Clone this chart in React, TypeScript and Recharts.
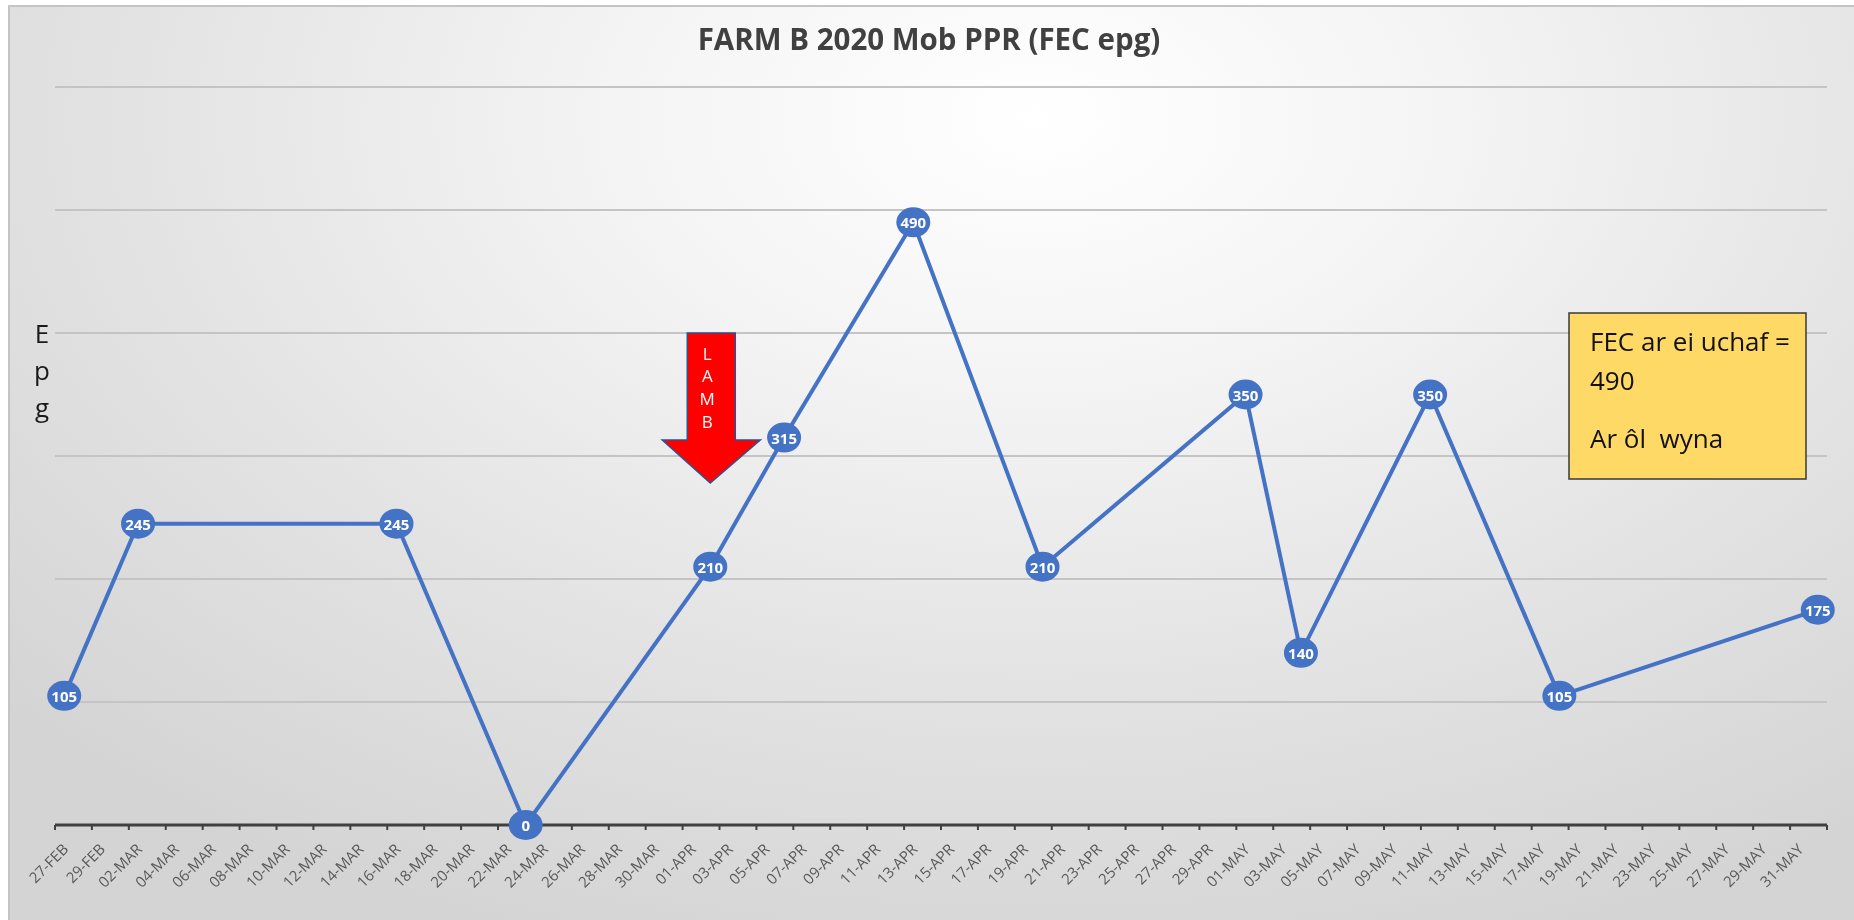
import React from 'react';
import { LineChart, Line, XAxis, YAxis, CartesianGrid, ReferenceDot } from 'recharts';

const chartTitle = 'FARM B 2020 Mob PPR (FEC epg)';
const axisStartDate = '2020-02-27';
const sampleDates = [
  '2020-02-27', '2020-03-02', '2020-03-16', '2020-03-23', '2020-04-02', '2020-04-06',
  '2020-04-13', '2020-04-20', '2020-05-01', '2020-05-04', '2020-05-11', '2020-05-18', '2020-06-01',
];
const fecValues = [105, 245, 245, 0, 210, 315, 490, 210, 350, 140, 350, 105, 175];
const tickLabels = [
  '27-FEB', '29-FEB', '02-MAR', '04-MAR', '06-MAR', '08-MAR', '10-MAR', '12-MAR', '14-MAR', '16-MAR',
  '18-MAR', '20-MAR', '22-MAR', '24-MAR', '26-MAR', '28-MAR', '30-MAR', '01-APR', '03-APR', '05-APR',
  '07-APR', '09-APR', '11-APR', '13-APR', '15-APR', '17-APR', '19-APR', '21-APR', '23-APR', '25-APR',
  '27-APR', '29-APR', '01-MAY', '03-MAY', '05-MAY', '07-MAY', '09-MAY', '11-MAY', '13-MAY', '15-MAY',
  '17-MAY', '19-MAY', '21-MAY', '23-MAY', '25-MAY', '27-MAY', '29-MAY', '31-MAY', '',
];
const yGridValues = [0, 100, 200, 300, 400, 500, 600];
const yAxisLetters = ['E', 'p', 'g'];
const lambDate = '2020-04-02';
const lambTopValue = 400;
const lambLetters = ['L', 'A', 'M', 'B'];
const noteLines = ['FEC ar ei uchaf =', '490', 'Ar ôl  wyna'];

const DAY_MS = 86400000;
const dayOf = (d: string) => Math.round((Date.parse(d) - Date.parse(axisStartDate)) / DAY_MS);

const data = sampleDates.map((d, i) => ({ x: dayOf(d) + 0.5, v: fecValues[i] }));
const xTicks = tickLabels.map((_, i) => i * 2);
const xMax = xTicks[xTicks.length - 1];

const BLUE = '#4472C4';
const FONT = '"Open Sans", "Noto Sans", sans-serif';

const DateTick = (props: any) => {
  const { x, y, payload } = props;
  const label = tickLabels[Math.round(payload.value / 2)] ?? '';
  const px = x + 10;
  const py = y + 14;
  return (
    <text
      x={px}
      y={py}
      transform={`rotate(-45 ${px} ${py})`}
      textAnchor="end"
      dominantBaseline="central"
      fontSize={15}
      fontFamily={FONT}
      fill="#595959"
    >
      {label}
    </text>
  );
};

const ValueDot = (props: any) => {
  const { cx, cy, value, index } = props;
  if (cx == null || cy == null) return <g key={`d${index}`} />;
  return (
    <g key={`d${index}`}>
      <ellipse cx={cx} cy={cy} rx={17} ry={15} fill={BLUE} />
      <text
        x={cx}
        y={cy}
        textAnchor="middle"
        dominantBaseline="central"
        fontSize={15}
        fontWeight="bold"
        fontFamily={FONT}
        fill="#ffffff"
      >
        {value}
      </text>
    </g>
  );
};

const LambArrow = (props: any) => {
  const { cx, cy } = props;
  if (cx == null || cy == null) return <g />;
  const pts = [
    [cx - 23, cy],
    [cx + 25, cy],
    [cx + 25, cy + 107],
    [cx + 50, cy + 107],
    [cx, cy + 150],
    [cx - 48, cy + 107],
    [cx - 23, cy + 107],
  ]
    .map((p) => p.join(','))
    .join(' ');
  const offs = [20, 42, 65, 88];
  return (
    <g>
      <polygon points={pts} fill="#FF0000" stroke="#2F528F" strokeWidth={1.5} />
      {lambLetters.map((l, i) => (
        <text
          key={l + i}
          x={cx - 3}
          y={cy + offs[i]}
          textAnchor="middle"
          dominantBaseline="central"
          fontSize={17}
          fontFamily={FONT}
          fill="#ffffff"
        >
          {l}
        </text>
      ))}
    </g>
  );
};

export default function App() {
  return (
    <div style={{ position: 'fixed', left: 0, top: 0, width: 1854, height: 920, overflow: 'hidden' }}>
      <div
        style={{
          position: 'absolute',
          left: 8,
          top: 5,
          width: 1870,
          height: 930,
          boxSizing: 'border-box',
          border: '2px solid #c4c4c4',
          background:
            'radial-gradient(ellipse 75% 95% at 55% 12%, #ffffff 0%, #f4f4f4 30%, #e3e3e3 65%, #d4d4d4 100%)',
        }}
      />
      <div style={{ position: 'absolute', left: 0, top: 0 }}>
        <LineChart width={1854} height={920} data={data} margin={{ top: 87, right: 27, left: 55, bottom: 35 }}>
          <CartesianGrid
            horizontal={true}
            vertical={false}
            stroke="#c4c4c4"
            strokeWidth={2}
            horizontalValues={yGridValues}
          />
          <XAxis
            type="number"
            dataKey="x"
            domain={[0, xMax]}
            ticks={xTicks}
            interval={0}
            height={60}
            tick={<DateTick />}
            tickSize={5}
            axisLine={{ stroke: '#404040', strokeWidth: 3 }}
            tickLine={{ stroke: '#404040', strokeWidth: 2 }}
            allowDecimals={false}
          />
          <YAxis type="number" domain={[0, 600]} ticks={yGridValues} hide />
          <ReferenceDot x={dayOf(lambDate) + 0.5} y={lambTopValue} shape={(p: any) => <LambArrow {...p} />} />
          <Line
            type="linear"
            dataKey="v"
            stroke={BLUE}
            strokeWidth={4}
            dot={(p: any) => <ValueDot key={`dot${p.index}`} {...p} />}
            activeDot={false}
            isAnimationActive={false}
          />
        </LineChart>
      </div>
      <svg
        width={1854}
        height={920}
        style={{ position: 'absolute', left: 0, top: 0, pointerEvents: 'none' }}
      >
        <text
          x={929}
          y={50}
          textAnchor="middle"
          fontSize={29.5}
          fontWeight="bold"
          fontFamily={FONT}
          fill="#404040"
        >
          {chartTitle}
        </text>
        {yAxisLetters.map((l, i) => (
          <text key={l} x={42} y={343 + i * 37} textAnchor="middle" fontSize={26} fontFamily={FONT} fill="#1a1a1a">
            {l}
          </text>
        ))}
        <rect x={1569} y={313} width={237} height={166} fill="#FFD966" stroke="#3a3a3a" strokeWidth={1.5} />
        {noteLines.map((t, i) => (
          <text
            key={i}
            x={1590}
            y={[351, 390, 448][i]}
            fontSize={26}
            fontFamily={FONT}
            fill="#111111"
            style={{ whiteSpace: 'pre' }}
          >
            {t}
          </text>
        ))}
      </svg>
    </div>
  );
}
